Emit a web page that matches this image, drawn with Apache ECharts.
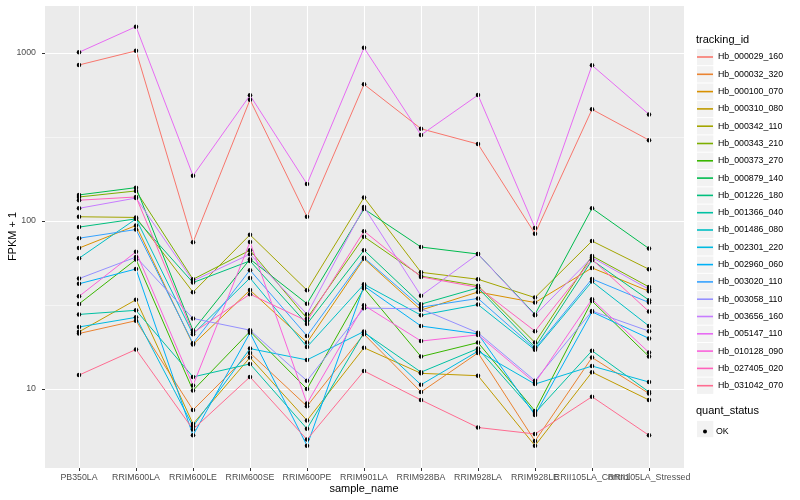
<!DOCTYPE html>
<html><head><meta charset="utf-8">
<script src="https://cdn.jsdelivr.net/npm/echarts@6/dist/echarts.min.js"></script>
<style>html,body{margin:0;padding:0;background:#fff}#c{width:800px;height:500px}</style>
</head><body><div id="c"></div>
<script>
const categories = ['PB350LA','RRIM600LA','RRIM600LE','RRIM600SE','RRIM600PE','RRIM901LA','RRIM928BA','RRIM928LA','RRIM928LE','RRII105LA_Control','RRII105LA_Stressed'];
const trackingIds = ['Hb_000029_160','Hb_000032_320','Hb_000100_070','Hb_000310_080','Hb_000342_110','Hb_000343_210','Hb_000373_270','Hb_000879_140','Hb_001226_180','Hb_001366_040','Hb_001486_080','Hb_002301_220','Hb_002960_060','Hb_003020_110','Hb_003058_110','Hb_003656_160','Hb_005147_110','Hb_010128_090','Hb_027405_020','Hb_031042_070'];
const colors = ['#F8766D','#EA8331','#D89000','#C09B00','#A3A500','#7CAE00','#39B600','#00BB4E','#00BF7D','#00C1A3','#00BFC4','#00BAE0','#00B0F6','#35A2FF','#9590FF','#C77CFF','#E76BF3','#FA62DB','#FF62BC','#FF6C91'];

const Hb_000029_160 = [849, 1030, 74.7, 527, 106, 651, 354, 287, 84, 462, 303];
const Hb_000032_320 = [21.4, 25.5, 7.5, 16.4, 7.9, 21.2, 9.6, 16.4, 4.9, 15.4, 9.4];
const Hb_000100_070 = [69, 94, 18.4, 38.8, 18.9, 59.6, 29.5, 37.8, 32.7, 52.6, 38.2];
const Hb_000310_080 = [21.9, 34, 6.2, 15.4, 6.5, 17.6, 12.4, 12.0, 4.6, 12.6, 8.6];
const Hb_000342_110 = [106, 105, 37.7, 82.8, 38.7, 138, 49.5, 45, 35, 76, 51.6];
const Hb_000343_210 = [139, 151, 45, 67, 26.3, 80.6, 47, 41.2, 18.9, 62, 40.5];
const Hb_000373_270 = [32.1, 59, 9.8, 22.0, 10, 39.8, 15.6, 18.9, 7.4, 33.4, 15.6];
const Hb_000879_140 = [143, 158, 22.3, 59.3, 32.2, 118, 70, 63.6, 27.8, 119, 68.5];
const Hb_001226_180 = [92, 103, 43, 57.9, 24.4, 67, 32, 40, 17.7, 58.5, 33.8];
const Hb_001366_040 = [27.8, 29.4, 11.8, 14.1, 5.8, 21.7, 12.6, 17.4, 7.2, 16.9, 9.6];
const Hb_001486_080 = [60, 103, 21.2, 45.8, 17.8, 42, 27.5, 31.8, 17.1, 43.6, 23.7];
const Hb_002301_220 = [23.4, 26.7, 6.0, 17.4, 14.9, 22, 10.6, 16.8, 10.7, 13.7, 11.0];
const Hb_002960_060 = [42.3, 51.8, 5.3, 21.6, 4.6, 41, 23.7, 21.3, 7.0, 28.8, 20.0];
const Hb_003020_110 = [79, 89, 18.7, 51, 20.7, 60.5, 30.7, 34.6, 17.4, 45.2, 32.7];
const Hb_003058_110 = [45.4, 61, 26.3, 22.4, 11.2, 30.3, 30, 21.6, 11.2, 29.1, 22.1];
const Hb_003656_160 = [119, 137, 44, 63.5, 27.9, 121, 35.9, 63.6, 27.5, 60.7, 39.2];
const Hb_005147_110 = [1010, 1435, 186, 560, 166, 1073, 325, 562, 91, 845, 431];
const Hb_010128_090 = [35.6, 65.6, 10.5, 75, 8.2, 31.5, 19.3, 21, 10.9, 34.2, 16.5];
const Hb_027405_020 = [133, 139, 21.6, 36.7, 25.4, 87, 46.5, 40.3, 22.1, 59.1, 28.9];
const Hb_031042_070 = [12.1, 17.2, 5.75, 11.8, 5.0, 12.8, 8.6, 5.9, 5.4, 9.0, 5.3];

const seriesValues = [Hb_000029_160, Hb_000032_320, Hb_000100_070, Hb_000310_080, Hb_000342_110, Hb_000343_210, Hb_000373_270, Hb_000879_140, Hb_001226_180, Hb_001366_040, Hb_001486_080, Hb_002301_220, Hb_002960_060, Hb_003020_110, Hb_003058_110, Hb_003656_160, Hb_005147_110, Hb_010128_090, Hb_027405_020, Hb_031042_070];

const FONT = '"Liberation Sans", Arial, Helvetica, sans-serif';
const Y_MIN = 3.387, Y_MAX = 1931;
const HALF_DECADE = Math.sqrt(10); // shift for the minor (half-decade) grid axis

const chart = echarts.init(document.getElementById('c'));

const lineSeries = trackingIds.map((id, i) => ({
  name: id, type: 'line', xAxisIndex: 1, yAxisIndex: 2,
  data: seriesValues[i], symbol: 'none', silent: true, z: 2,
  lineStyle: { width: 1, color: colors[i] }, itemStyle: { color: colors[i] }
}));

const pointData = [];
seriesValues.forEach(vals => vals.forEach((v, j) => pointData.push([j, v])));

const keyBoxes = trackingIds.map((id, i) => ({
  type: 'rect', left: 697, top: 48.9 + 17.3 * i, z: -1,
  shape: { width: 16.3, height: 16.3 }, style: { fill: '#F2F2F2' }
}));
keyBoxes.push({ type: 'rect', left: 697, top: 420.9, z: -1, shape: { width: 16.3, height: 16.3 }, style: { fill: '#F2F2F2' } });

chart.setOption({
  animation: false,
  textStyle: { fontFamily: FONT },
  title: [
    { text: 'tracking_id', left: 696, top: 34.5, padding: 0, textStyle: { fontSize: 11, fontWeight: 'normal', color: '#000', fontFamily: FONT } },
    { text: 'quant_status', left: 696, top: 405.5, padding: 0, textStyle: { fontSize: 11, fontWeight: 'normal', color: '#000', fontFamily: FONT } }
  ],
  graphic: keyBoxes,
  grid: [
    { left: 45, top: 5, width: 639, height: 463, show: true, backgroundColor: '#EBEBEB', borderWidth: 0, containLabel: false, outerBoundsMode: 'none' },
    { left: 50.5, top: 5, width: 627, height: 463, containLabel: false, outerBoundsMode: 'none' }
  ],
  legend: [
    { data: trackingIds, orient: 'vertical', left: 697, top: 50, padding: 0,
      itemWidth: 16, itemHeight: 14, itemGap: 3.3, selectedMode: false,
      icon: 'path://M0,0L16,0L16,1.6L0,1.6Z', symbolKeepAspect: true,
      textStyle: { fontSize: 8.8, lineHeight: 14, color: '#000', fontFamily: FONT } },
    { data: ['OK'], orient: 'vertical', left: 703, top: 427, padding: 0,
      itemWidth: 4, itemHeight: 4, selectedMode: false, icon: 'circle',
      textStyle: { fontSize: 8.8, color: '#000', fontFamily: FONT, padding: [0, 0, 0, 4] } }
  ],
  xAxis: [
    { gridIndex: 0, type: 'value', min: 0, max: 1, show: false },
    { gridIndex: 1, type: 'category', data: categories, boundaryGap: true,
      axisLine: { show: false },
      axisTick: { show: true, alignWithLabel: true, length: 3, lineStyle: { color: '#333' } },
      axisLabel: { interval: 0, fontSize: 8.8, color: '#4D4D4D', margin: 5, fontFamily: FONT },
      splitLine: { show: false },
      name: 'sample_name', nameLocation: 'middle', nameGap: 15, nameMoveOverlap: false,
      nameTextStyle: { fontSize: 11, color: '#000', fontFamily: FONT } }
  ],
  yAxis: [
    { gridIndex: 0, type: 'log', logBase: 10, min: Y_MIN, max: Y_MAX,
      axisLine: { show: false },
      axisTick: { show: true, length: 3, lineStyle: { color: '#333' } },
      axisLabel: { fontSize: 8.8, color: '#4D4D4D', margin: 9, showMinLabel: false, showMaxLabel: false,
        fontFamily: FONT, formatter: v => String(Math.round(v)) },
      splitLine: { show: true, lineStyle: { color: '#FFFFFF', width: 1.1 } },
      name: 'FPKM + 1', nameLocation: 'middle', nameGap: 27, nameRotate: 90, nameMoveOverlap: false,
      nameTextStyle: { fontSize: 11, color: '#000', fontFamily: FONT } },
    { gridIndex: 0, type: 'log', logBase: 10, min: Y_MIN * HALF_DECADE, max: Y_MAX * HALF_DECADE,
      axisLine: { show: false }, axisTick: { show: false }, axisLabel: { show: false },
      splitLine: { show: true, lineStyle: { color: '#FFFFFF', width: 0.5 } } },
    { gridIndex: 1, type: 'log', logBase: 10, min: Y_MIN, max: Y_MAX,
      axisLine: { show: false }, axisTick: { show: false }, axisLabel: { show: false },
      splitLine: { show: false } }
  ],
  series: [
    { name: 'vgrid', type: 'line', xAxisIndex: 1, yAxisIndex: 2, data: [], z: 1, silent: true,
      markLine: { silent: true, symbol: ['none', 'none'], label: { show: false }, animation: false,
        lineStyle: { color: '#FFFFFF', width: 1.1, type: 'solid' },
        data: categories.map(c => ({ xAxis: c })) } },
    ...lineSeries,
    { name: 'OK', type: 'scatter', xAxisIndex: 1, yAxisIndex: 2, data: pointData, z: 3, silent: true,
      symbol: 'circle', symbolSize: 4.5, itemStyle: { color: '#000', opacity: 1, borderWidth: 0 } }
  ]
});
</script></body></html>
